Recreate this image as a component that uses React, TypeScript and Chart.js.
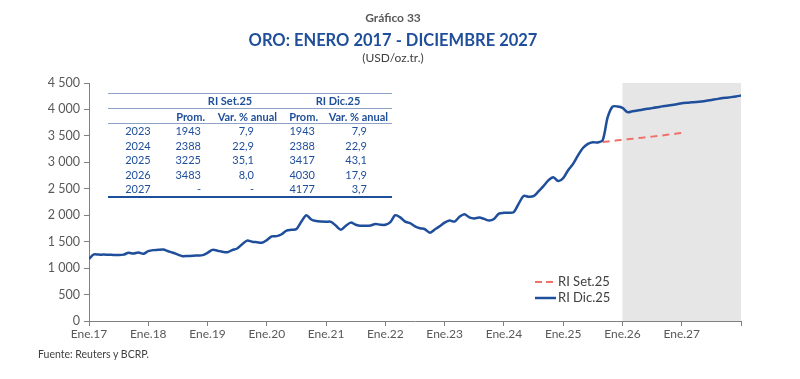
import React, { useEffect, useRef } from "react";
import { Chart, registerables } from "chart.js";
Chart.register(...registerables);

// ---------- DATA ----------
const xTickLabels = ["Ene.17","Ene.18","Ene.19","Ene.20","Ene.21","Ene.22","Ene.23","Ene.24","Ene.25","Ene.26","Ene.27",""];
// Monthly values (USD/oz.tr.) from Ene.17 onward, read at each month mark
const riDic25 = [
  1175,1260,1255,1255,1252,1250,1248,1255,1290,1275,1295,1270,
  1320,1340,1345,1350,1320,1290,1255,1225,1230,1232,1240,1245,
  1290,1345,1330,1310,1300,1340,1370,1450,1520,1500,1490,1480,
  1530,1600,1605,1640,1710,1725,1740,1880,2000,1920,1890,1880,
  1876,1875,1800,1725,1800,1860,1820,1800,1800,1805,1835,1820,
  1820,1870,2000,1960,1880,1850,1790,1755,1735,1670,1730,1790,
  1860,1900,1880,1970,2020,1960,1940,1955,1930,1900,1930,2030,
  2045,2045,2060,2220,2365,2350,2360,2450,2550,2660,2720,2645,
  2700,2850,2970,3130,3270,3350,3380,3375,3420,3850,4055,4055,
  4030,3950,3965,3980,3995,4012,4025,4040,4058,4070,4085,4100,
  4118,4128,4135,4142,4152,4165,4180,4195,4210,4222,4233,4246,
  4262
];
const setStartIndex = 104; // Sep.25
const riSet25 = [3385,3395,3405,3416,3425,3436,3445,3456,3466,3476,3486,3497,3508,3520,3531,3543,3555];
const forecastStart = 108; // Ene.26
const forecastEnd = 132;

const tableYears = ["2023","2024","2025","2026","2027"];
const setProm = ["1943","2388","3225","3483","-"];
const setVar = ["7,9","22,9","35,1","8,0","-"];
const dicProm = ["1943","2388","3417","4030","4177"];
const dicVar = ["7,9","22,9","43,1","17,9","3,7"];

const BLUE = "#1f4e9b";
const RED = "#f0706a";
const GRAY = "#595959";
const FONT = "Lato, 'Open Sans', sans-serif";

const fmtY = (v: number) =>
  v >= 1000 ? `${Math.floor(v / 1000)} ${String(v % 1000).padStart(3, "0")}` : String(v);

const shadePlugin = {
  id: "shade",
  beforeDatasetsDraw(chart: any) {
    const { ctx, chartArea, scales } = chart;
    const x0 = scales.x.getPixelForValue(forecastStart);
    const x1 = scales.x.getPixelForValue(forecastEnd);
    ctx.save();
    ctx.fillStyle = "#e6e6e6";
    ctx.fillRect(x0, chartArea.top, x1 - x0, chartArea.bottom - chartArea.top);
    ctx.restore();
  },
};

const legendPlugin = {
  id: "customLegend",
  afterDraw(chart: any) {
    const { ctx } = chart;
    const items = chart.data.datasets.slice().reverse();
    ctx.save();
    items.forEach((ds: any, i: number) => {
      const y = 282 + i * 16;
      ctx.strokeStyle = ds.borderColor;
      ctx.lineWidth = ds.borderWidth;
      ctx.setLineDash(ds.borderDash && ds.borderDash.length ? [7, 4] : []);
      ctx.beginPath();
      ctx.moveTo(535, y);
      ctx.lineTo(556, y);
      ctx.stroke();
      ctx.setLineDash([]);
      ctx.fillStyle = "#404040";
      ctx.font = `13px ${FONT}`;
      ctx.textBaseline = "middle";
      ctx.fillText(ds.label, 558, y);
    });
    ctx.restore();
  },
};

function ChartCanvas() {
  const ref = useRef<HTMLCanvasElement | null>(null);
  useEffect(() => {
    document.body.style.margin = "0";
    const blueData = riDic25.map((v, i) => ({ x: i, y: v }));
    const redData = riSet25.map((v, i) => ({ x: setStartIndex + i, y: v }));
    const chart = new Chart(ref.current as HTMLCanvasElement, {
      type: "line",
      data: {
        datasets: [
          {
            label: "RI Dic.25",
            data: blueData,
            borderColor: BLUE,
            borderWidth: 2.5,
            pointRadius: 0,
            tension: 0.3,
            fill: false,
            order: 1,
          },
          {
            label: "RI Set.25",
            data: redData,
            borderColor: RED,
            borderWidth: 2,
            borderDash: [7, 5],
            pointRadius: 0,
            tension: 0,
            fill: false,
            order: 2,
          },
        ],
      },
      options: {
        animation: false,
        responsive: false,
        maintainAspectRatio: false,
        layout: { padding: { left: 0, right: 59, top: 83, bottom: 0 } },
        plugins: { legend: { display: false }, tooltip: { enabled: false }, title: { display: false } },
        scales: {
          x: {
            type: "linear",
            min: 0,
            max: 132,
            afterFit: (s: any) => { s.height = 58; },
            afterBuildTicks: (s: any) => {
              s.ticks = xTickLabels.map((_, i) => ({ value: i * 12 }));
            },
            ticks: {
              autoSkip: false,
              maxRotation: 0,
              color: GRAY,
              font: { size: 12, family: FONT },
              padding: 1,
              callback: (v: any) => xTickLabels[Math.round(Number(v) / 12)] ?? "",
            },
            grid: { drawOnChartArea: false, drawTicks: true, tickLength: 5, color: "#808080" },
            border: { display: true, color: "#808080", width: 1 },
          },
          y: {
            min: 0,
            max: 4500,
            afterFit: (s: any) => { s.width = 89; },
            ticks: {
              stepSize: 500,
              color: GRAY,
              font: { size: 12.5, family: FONT },
              padding: 4,
              callback: (v: any) => fmtY(Number(v)),
            },
            grid: { drawOnChartArea: false, drawTicks: true, tickLength: 5, color: "#808080" },
            border: { display: true, color: "#808080", width: 1 },
          },
        },
      },
      plugins: [shadePlugin, legendPlugin],
    });
    return () => chart.destroy();
  }, []);
  return <canvas ref={ref} width={800} height={379} style={{ position: "absolute", left: 0, top: 0, width: 800, height: 379 }} />;
}

const cellStyle = (right: number, top: number, extra: any = {}) => ({
  position: "absolute" as const,
  left: right - 90,
  width: 90,
  top: top - 7,
  height: 14,
  lineHeight: "14px",
  textAlign: "right" as const,
  fontSize: 11,
  color: BLUE,
  whiteSpace: "nowrap" as const,
  ...extra,
});

function Table() {
  const rowY = [131, 145.6, 160.2, 174.8, 189.4];
  const hr = (y: number, color: string, h: number) => (
    <div style={{ position: "absolute", left: 108, width: 284, top: y, height: h, background: color }} />
  );
  return (
    <div style={{ position: "absolute", left: 0, top: 0, fontFamily: FONT }}>
      {hr(93, "#8ea2c6", 1)}
      {hr(108, "#8ea2c6", 1)}
      {hr(123, "#8ea2c6", 1)}
      {hr(196, BLUE, 1.5)}
      <div style={{ ...cellStyle(0, 101), left: 190, width: 80, textAlign: "center", fontWeight: 700 }}>RI Set.25</div>
      <div style={{ ...cellStyle(0, 101), left: 298, width: 80, textAlign: "center", fontWeight: 700 }}>RI Dic.25</div>
      <div style={cellStyle(205, 116.5, { fontWeight: 700 })}>Prom.</div>
      <div style={cellStyle(277, 116.5, { fontWeight: 700 })}>Var. % anual</div>
      <div style={cellStyle(318, 116.5, { fontWeight: 700 })}>Prom.</div>
      <div style={cellStyle(388, 116.5, { fontWeight: 700 })}>Var. % anual</div>
      {tableYears.map((yr, i) => (
        <React.Fragment key={yr}>
          <div style={{ ...cellStyle(0, rowY[i]), left: 108, width: 60, textAlign: "center" }}>{yr}</div>
          <div style={cellStyle(201, rowY[i])}>{setProm[i]}</div>
          <div style={cellStyle(254, rowY[i])}>{setVar[i]}</div>
          <div style={cellStyle(315, rowY[i])}>{dicProm[i]}</div>
          <div style={cellStyle(367, rowY[i])}>{dicVar[i]}</div>
        </React.Fragment>
      ))}
    </div>
  );
}

export default function App() {
  return (
    <div style={{ position: "relative", width: 800, height: 379, overflow: "hidden", background: "#fff", fontFamily: FONT }}>
      <ChartCanvas />
      <div style={{ position: "absolute", left: 0, width: 786, top: 10, textAlign: "center", fontSize: 12, fontWeight: 700, color: GRAY, lineHeight: "16px" }}>Gráfico 33</div>
      <div style={{ position: "absolute", left: 0, width: 786, top: 30, textAlign: "center", fontSize: 16.5, fontWeight: 700, color: BLUE, lineHeight: "20px" }}>ORO: ENERO 2017 - DICIEMBRE 2027</div>
      <div style={{ position: "absolute", left: 0, width: 786, top: 50, textAlign: "center", fontSize: 12, color: "#404040", lineHeight: "16px" }}>(USD/oz.tr.)</div>
      <Table />
      <div style={{ position: "absolute", left: 38, top: 347, fontSize: 10.5, color: "#404040", lineHeight: "14px" }}>Fuente: Reuters y BCRP.</div>
    </div>
  );
}
